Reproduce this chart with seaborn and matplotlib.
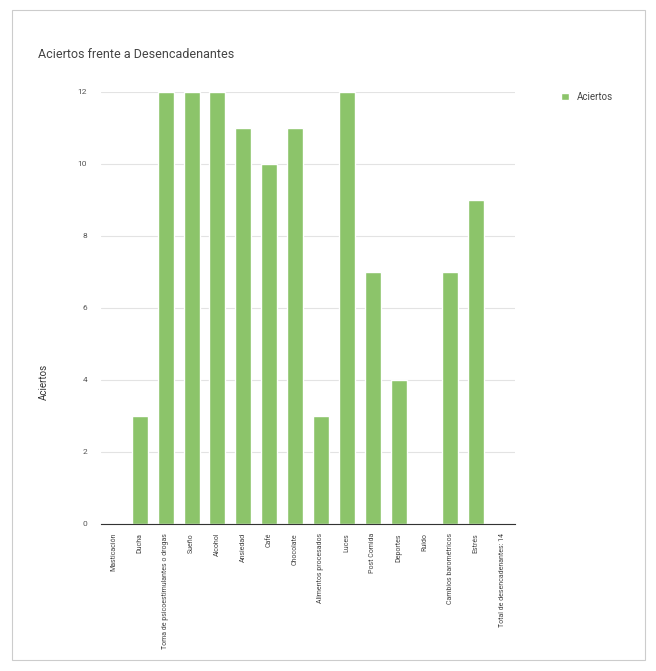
import matplotlib
matplotlib.use("Agg")
import matplotlib.pyplot as plt
from matplotlib.patches import Rectangle
import seaborn as sns
import pandas as pd

categorias = [
    "Masticación", "Ducha", "Toma de psicoestimulantes o drogas", "Sueño",
    "Alcohol", "Ansiedad", "Café", "Chocolate", "Alimentos procesados",
    "Luces", "Post Comida", "Deportes", "Ruido", "Cambios barométricos",
    "Estrés", "Total de desencadenantes: 14",
]
aciertos = [0, 3, 12, 12, 12, 11, 10, 11, 3, 12, 7, 4, 0, 7, 9, 0]
yticks = [0, 2, 4, 6, 8, 10, 12]

verde = "#8cc46a"
df = pd.DataFrame({"Desencadenante": categorias, "Aciertos": aciertos})

sns.set_theme(style="white")
plt.rcParams["font.family"] = ["Roboto", "DejaVu Sans"]

fig = plt.figure(figsize=(6.56, 6.71), dpi=100)
ax = fig.add_axes([101 / 656, 1 - 524 / 671, 414 / 656, 432 / 671])

sns.barplot(data=df, x="Desencadenante", y="Aciertos", color=verde,
            width=0.62, saturation=1, ax=ax, label="Aciertos")

ax.set_ylim(0, 12)
ax.set_yticks(yticks)
ax.set_yticklabels([str(v) for v in yticks], fontsize=6, color="#555555")
ax.set_xlim(-0.5, len(categorias) - 0.5)
ax.tick_params(axis="x", labelrotation=90, labelsize=5, colors="#444444",
               length=3, width=0.6)
ax.tick_params(axis="y", length=0, pad=10)
for lab in ax.get_xticklabels():
    lab.set_verticalalignment("top")

ax.yaxis.grid(True, color="#e3e3e3", linewidth=0.8)
ax.set_axisbelow(True)
for s in ["top", "right", "left"]:
    ax.spines[s].set_visible(False)
ax.spines["bottom"].set_color("#333333")
ax.spines["bottom"].set_linewidth(0.8)

ax.set_xlabel("")
ax.set_ylabel("Aciertos", fontsize=7, color="#333333")
ax.yaxis.set_label_coords(-0.125, 0.33)

fig.text(38 / 656, 1 - 55 / 671, "Aciertos frente a Desencadenantes",
         fontsize=9, color="#444444", va="center")

ax.legend(loc="upper left", bbox_to_anchor=(1.09, 1.02), frameon=False,
          fontsize=7, handlelength=0.8, handleheight=0.8,
          labelcolor="#444444")

fig.patches.append(Rectangle((12 / 656, 11 / 671), 633 / 656, 650 / 671,
                             transform=fig.transFigure, fill=False,
                             edgecolor="#cccccc", linewidth=0.8))

fig.savefig("out.png", dpi=100, facecolor="white")
